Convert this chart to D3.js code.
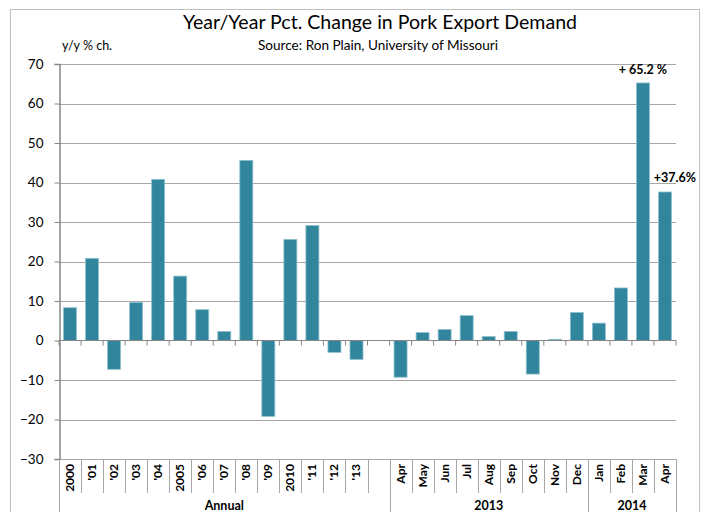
<!DOCTYPE html>
<html>
<head>
<meta charset="utf-8">
<script src="https://cdn.jsdelivr.net/npm/d3@7"></script>
<style>
  body { margin: 0; background: #fff; }
  svg { display: block; }
  text { font-family: Lato, "Open Sans", sans-serif; fill: #000; }
</style>
</head>
<body>
<svg id="chart" width="704" height="512"></svg>
<script>
const categories = ["2000","'01","'02","'03","'04","2005","'06","'07","'08","'09","2010","'11","'12","'13","",
  "Apr","May","Jun","Jul","Aug","Sep","Oct","Nov","Dec","Jan","Feb","Mar","Apr"];
const values = [8.3,20.8,-7.3,9.6,40.8,16.3,7.8,2.3,45.6,-19.2,25.6,29.1,-3.0,-4.8,null,
  -9.3,2.0,2.8,6.3,1.0,2.3,-8.5,0.3,7.1,4.4,13.3,65.2,37.6];
const groupLabels = ["Annual","2013","2014"];
const groupSizes = [15,9,4];
const yTicks = [-30,-20,-10,0,10,20,30,40,50,60,70];
const annotations = [{index: 26, text: "+ 65.2 %"}, {index: 27, text: "+37.6%"}];

const svg = d3.select("#chart");
const L = 59, R = 676, T = 64, B = 459;
const x = d3.scaleBand().domain(d3.range(categories.length)).range([L, R]).paddingInner(0.41).paddingOuter(0.205);
const step = x.step();
const y = d3.scaleLinear().domain([-30, 70]).range([B, T]);

// outer border
svg.append("rect").attr("x", 10.5).attr("y", 9.5).attr("width", 689).attr("height", 520)
  .attr("fill", "none").attr("stroke", "#bfbfbf");

// gridlines
svg.append("g").selectAll("line").data(yTicks).join("line")
  .attr("x1", L).attr("x2", R)
  .attr("y1", d => Math.round(y(d)) + 0.5).attr("y2", d => Math.round(y(d)) + 0.5)
  .attr("stroke", "#a6a6a6").attr("stroke-width", 1);

// y axis
const yAxis = svg.append("g").attr("transform", `translate(${L + 0.5},0)`)
  .call(d3.axisLeft(y).tickValues(yTicks).tickSize(5).tickPadding(11).tickFormat(d3.format("d")));
yAxis.select(".domain").attr("stroke", "#868686").attr("stroke-width", 1.5);
yAxis.selectAll(".tick line").attr("stroke", "#868686");
yAxis.selectAll(".tick text").style("font-size", "13.5px").attr("fill", "#000");

// bars
svg.append("g").selectAll("rect").data(values.map((v, i) => ({v, i})).filter(d => d.v !== null)).join("rect")
  .attr("x", d => x(d.i))
  .attr("width", x.bandwidth())
  .attr("y", d => y(Math.max(0, d.v)))
  .attr("height", d => Math.abs(y(d.v) - y(0)))
  .attr("fill", "#31859c")
  .attr("stroke", "#8fc1cf").attr("stroke-width", 0.8);

// zero axis
const y0 = Math.round(y(0)) + 0.5;
svg.append("line").attr("x1", L).attr("x2", R).attr("y1", y0).attr("y2", y0)
  .attr("stroke", "#868686").attr("stroke-width", 1.2);
svg.append("g").selectAll("line").data(d3.range(categories.length + 1)).join("line")
  .attr("x1", i => L + i * step).attr("x2", i => L + i * step)
  .attr("y1", y0).attr("y2", y0 + 5)
  .attr("stroke", "#868686");

// category table lines
const boundaries = [0];
groupSizes.reduce((acc, s) => { boundaries.push(acc + s); return acc + s; }, 0);
svg.append("g").selectAll("line").data(d3.range(categories.length + 1)).join("line")
  .attr("x1", i => Math.round(L + i * step) + 0.5).attr("x2", i => Math.round(L + i * step) + 0.5)
  .attr("y1", B).attr("y2", i => boundaries.includes(i) ? 520 : 493)
  .attr("stroke", "#a6a6a6");

// category labels
svg.append("g").selectAll("text").data(categories).join("text")
  .attr("transform", (d, i) => `translate(${x(i) + x.bandwidth() / 2 + 4},464) rotate(-90)`)
  .attr("text-anchor", "end")
  .style("font-size", "12px").style("font-weight", "bold")
  .text(d => d);

// group labels
svg.append("g").selectAll("text").data(groupLabels).join("text")
  .attr("x", (d, i) => L + (boundaries[i] + boundaries[i + 1]) / 2 * step)
  .attr("y", 510)
  .attr("text-anchor", "middle")
  .style("font-size", "12.5px").style("font-weight", "bold")
  .text(d => d);

// annotations
svg.append("text").attr("x", x(annotations[0].index) + x.bandwidth() / 2).attr("y", y(values[annotations[0].index]) - 9)
  .attr("text-anchor", "middle").style("font-size", "12.5px").style("font-weight", "bold").text(annotations[0].text);
svg.append("text").attr("x", x(annotations[1].index) + x.bandwidth() / 2 + 10).attr("y", y(values[annotations[1].index]) - 10)
  .attr("text-anchor", "middle").style("font-size", "12.5px").style("font-weight", "bold").text(annotations[1].text);

// titles
svg.append("text").attr("x", 380).attr("y", 29).attr("text-anchor", "middle")
  .style("font-size", "19px").text("Year/Year  Pct. Change in Pork Export Demand")
  .attr("textLength", 394).attr("lengthAdjust", "spacingAndGlyphs");
svg.append("text").attr("x", 378).attr("y", 50).attr("text-anchor", "middle")
  .style("font-size", "12.5px").text("Source: Ron Plain, University of Missouri")
  .attr("textLength", 240).attr("lengthAdjust", "spacingAndGlyphs");
svg.append("text").attr("x", 62).attr("y", 50)
  .style("font-size", "12.5px").text("y/y % ch.");
</script>
</body>
</html>
